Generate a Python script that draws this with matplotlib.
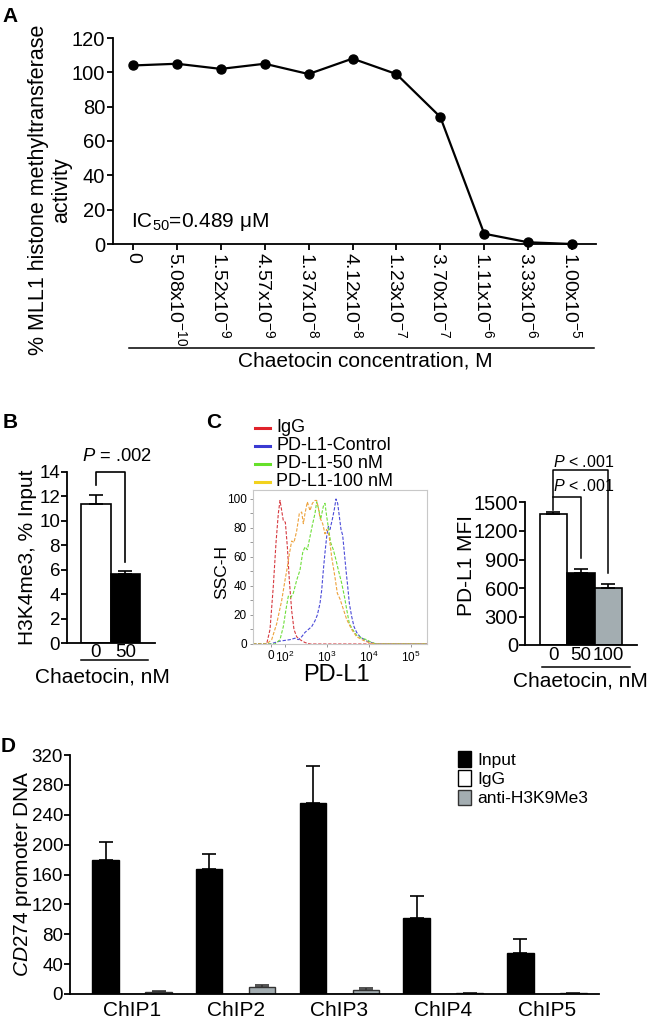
import numpy as np
import matplotlib
matplotlib.use('Agg')
import matplotlib.pyplot as plt
from matplotlib.lines import Line2D

W, H = 650, 1035
plt.rcParams['font.family'] = ['Liberation Sans', 'DejaVu Sans']
plt.rcParams['mathtext.fontset'] = 'custom'
plt.rcParams['mathtext.rm'] = 'Liberation Sans'
plt.rcParams['mathtext.it'] = 'Liberation Sans:italic'
plt.rcParams['axes.linewidth'] = 1.3

# ---- panel A: MLL1 activity vs chaetocin
conc_labels = ['0', r'5.08x10$^{-10}$', r'1.52x10$^{-9}$', r'4.57x10$^{-9}$', r'1.37x10$^{-8}$',
               r'4.12x10$^{-8}$', r'1.23x10$^{-7}$', r'3.70x10$^{-7}$', r'1.11x10$^{-6}$',
               r'3.33x10$^{-6}$', r'1.00x10$^{-5}$']
activity = [104, 105, 102, 105, 99, 108, 99, 74, 6, 1, 0]

# ---- panel B: H3K4me3 ChIP
b_labels = ['0', '50']
b_vals = [11.4, 5.65]
b_err = [0.7, 0.25]

# ---- panel C: flow histogram (x in display decades, 0 / 10^2 ... 10^5)
hist_labels = ['IgG', 'PD-L1-Control', 'PD-L1-50 nM', 'PD-L1-100 nM']
hist_leg_colors = ['#e0232b', '#3a3ad2', '#66e02a', '#f2d21e']
hist_colors = ['#d63a40', '#4a4ad8', '#6ede3a', '#eda23c']
igg_x = [1.238, 1.563, 1.643, 1.722, 1.786, 1.841, 1.881, 1.921, 1.960, 2.008, 2.056, 2.103,
         2.159, 2.214, 2.278, 2.357, 2.476, 2.595, 5.381]
igg_y = [0, 0, 10, 40, 70, 90, 99, 92, 85, 84, 67, 44, 23, 10, 5, 3, 1, 0, 0]
ctl_x = [1.238, 1.643, 1.762, 1.881, 2.0, 2.119, 2.238, 2.317, 2.397, 2.476, 2.556, 2.635, 2.714,
         2.770, 2.833, 2.873, 2.913, 2.952, 2.992, 3.032, 3.071, 3.127, 3.175, 3.214, 3.254,
         3.294, 3.333, 3.373, 3.413, 3.452, 3.492, 3.532, 3.587, 3.643, 3.706, 3.786, 3.865,
         3.944, 4.063, 4.183, 5.381]
ctl_y = [0, 0, 1, 2, 2.5, 3, 4, 3, 5, 8, 10, 12, 16, 20, 28, 37, 51, 63, 74, 81, 79, 86, 93,
         100, 97, 88, 79, 75, 63, 51, 40, 28, 19, 12, 8, 5, 3.5, 2, 1, 0, 0]
n50_x = [1.238, 1.762, 1.881, 1.960, 2.024, 2.079, 2.135, 2.198, 2.278, 2.357, 2.421, 2.476,
         2.532, 2.595, 2.659, 2.714, 2.754, 2.802, 2.849, 2.913, 2.952, 2.992, 3.040, 3.087,
         3.151, 3.214, 3.270, 3.349, 3.413, 3.468, 3.532, 3.611, 3.706, 3.825, 3.944, 4.063,
         4.183, 5.381]
n50_y = [0, 0, 3, 12, 24, 33, 32, 35, 44, 51, 63, 67, 65, 74, 83, 90, 98, 93, 86, 95, 97, 88,
         79, 70, 65, 58, 51, 42, 33, 24, 14, 10, 6, 4, 3, 1, 0, 0]
n100_x = [1.238, 1.563, 1.683, 1.802, 1.921, 2.0, 2.056, 2.103, 2.159, 2.214, 2.278, 2.341,
          2.397, 2.437, 2.476, 2.532, 2.595, 2.651, 2.714, 2.754, 2.794, 2.833, 2.897, 2.952,
          2.992, 3.048, 3.111, 3.190, 3.246, 3.310, 3.389, 3.468, 3.587, 3.706, 3.865, 4.024,
          4.183, 5.381]
n100_y = [0, 0, 3, 14, 30, 44, 53, 62, 71, 70, 78, 90, 91, 83, 90, 98, 92, 97, 99, 99, 94, 87,
          83, 76, 79, 75, 60, 46, 35, 31, 24, 17, 10, 5, 2.5, 0.7, 0, 0]
hist_ticks = [1.667, 2, 3, 4, 5]
hist_ticklabels = ['0', r'$10^2$', r'$10^3$', r'$10^4$', r'$10^5$']

# ---- panel C: PD-L1 MFI
c_labels = ['0', '50', '100']
c_vals = [1375, 760, 600]
c_err = [25, 40, 42]

# ---- panel D: ChIP
chip_labels = ['ChIP1', 'ChIP2', 'ChIP3', 'ChIP4', 'ChIP5']
d_input = [180, 167, 256, 102, 55]
d_input_err = [24, 21, 49, 29, 19]
d_igg = [0.6, 0.5, 0.5, 0.4, 0.4]
d_h3k9 = [3, 9, 6, 1, 1]
d_h3k9_err = [0.5, 3, 1.5, 0.3, 0.3]

GRAY = '#a3adb1'

fig = plt.figure(figsize=(W / 100, H / 100), dpi=100)


def add_ax(l, t, r, b):
    return fig.add_axes([l / W, 1 - b / H, (r - l) / W, (b - t) / H])


def ftext(x, y, s, **kw):
    return fig.text(x / W, 1 - y / H, s, **kw)


def fline(x0, x1, y, **kw):
    fig.add_artist(Line2D([x0 / W, x1 / W], [1 - y / H, 1 - y / H], color='k', lw=1.1, **kw))


def clean(ax):
    for s in ['top', 'right']:
        ax.spines[s].set_visible(False)


# A
axA = add_ax(113, 38, 596, 244)
xa = np.arange(len(activity))
axA.plot(xa, activity, color='k', lw=1.6, marker='o', ms=6.5, clip_on=False)
axA.set_xlim(-0.456, 10.547)
axA.set_ylim(0, 120)
axA.set_yticks(range(0, 121, 20))
axA.set_xticks(xa)
axA.set_xticklabels(conc_labels, rotation=270, va='top', ha='center')
axA.tick_params(axis='y', length=4, width=1.3, labelsize=14.5, pad=1.5)
axA.tick_params(axis='x', length=4, width=1.3, labelsize=14, pad=2)
clean(axA)
axA.text(0.037, 0.107, 'IC$_{50}$=0.489 μM', transform=axA.transAxes, va='center', size=15)
ftext(50, 190, '% MLL1 histone methyltransferase\nactivity', rotation=90, ha='center',
      va='center', multialignment='center', size=15.5, linespacing=1.1)
fline(129, 594, 348)
ftext(365, 361, 'Chaetocin concentration, M', ha='center', va='center', size=15)
ftext(10, 17, 'A', ha='center', va='center', size=15, weight='bold')

# B
axB = add_ax(67, 472, 155, 643)
xb = np.arange(len(b_vals))
axB.bar(xb, b_vals, width=1, color=['white', 'black'], edgecolor='black', lw=1.2)
axB.errorbar(xb, b_vals, yerr=[[0, 0], b_err], fmt='none', ecolor='k', capsize=5,
             elinewidth=1.2, capthick=1.2)
axB.set_xlim(-0.983, 2.0)
axB.set_ylim(0, 14)
axB.set_yticks(range(0, 15, 2))
axB.set_xticks(xb)
axB.set_xticklabels(b_labels)
axB.tick_params(axis='y', length=4, width=1.3, labelsize=13.5, pad=1)
axB.tick_params(axis='x', length=0, labelsize=13.5, pad=1)
clean(axB)
axB.plot([0, 0, 1, 1], [12.95, 14, 14, 6.6], color='k', lw=1.2, clip_on=False)
axB.text(0.71, 15.3, r'$\it{P}$ = .002', ha='center', va='center', size=13.2)
ftext(28, 557, 'H3K4me3, % Input', rotation=90, ha='center', va='center', size=15)
fline(81, 148, 660)
ftext(102, 677, 'Chaetocin, nM', ha='center', va='center', size=15)
ftext(10, 422, 'B', ha='center', va='center', size=15, weight='bold')

# C histogram
axH = add_ax(253, 490, 427, 644)
series = [(igg_x, igg_y), (ctl_x, ctl_y), (n50_x, n50_y), (n100_x, n100_y)]
for (hx, hy), col in zip(series, hist_colors):
    axH.plot(hx, hy, color=col, lw=0.8, ls=(0, (3, 1.5)))
axH.set_xlim(1.238, 5.381)
axH.set_ylim(0, 106.2)
axH.set_yticks(range(0, 101, 20))
axH.set_yticks(range(10, 101, 20), minor=True)
axH.set_xticks(hist_ticks)
axH.set_xticklabels(hist_ticklabels)
for s in axH.spines.values():
    s.set_color('#c8c8c8')
    s.set_linewidth(0.8)
axH.tick_params(which='both', length=2.5, width=0.6, color='#888888', labelsize=8.5, pad=2)
ftext(222, 572, 'SSC-H', rotation=90, ha='center', va='center', size=12.5)
ftext(336, 675, 'PD-L1', ha='center', va='center', size=17)
for i, (lab, col) in enumerate(zip(hist_labels, hist_leg_colors)):
    y = 428 + 18 * i
    fig.add_artist(Line2D([255 / W, 270 / W], [1 - y / H] * 2, color=col, lw=2.2))
    ftext(276, y, lab, va='center', size=13)
ftext(214, 422, 'C', ha='center', va='center', size=15, weight='bold')

# C bars
axC = add_ax(525, 502.5, 637, 645)
xc = np.arange(len(c_vals))
axC.bar(xc, c_vals, width=1, color=['white', 'black', GRAY], edgecolor='black', lw=1.2)
axC.errorbar(xc, c_vals, yerr=[[0, 0, 0], c_err], fmt='none', ecolor='k', capsize=5,
             elinewidth=1.2, capthick=1.2)
axC.set_xlim(-1.036, 3.04)
axC.set_ylim(0, 1500)
axC.set_yticks(range(0, 1501, 300))
axC.set_xticks(xc)
axC.set_xticklabels(c_labels)
axC.tick_params(axis='y', length=4, width=1.3, labelsize=14.5, pad=1)
axC.tick_params(axis='x', length=0, labelsize=13.5, pad=1.5)
clean(axC)
axC.plot([0, 0, 2, 2], [1421, 1842, 1842, 760], color='k', lw=1.1, clip_on=False)
axC.plot([0, 1, 1], [1558, 1558, 915], color='k', lw=1.1, clip_on=False)
axC.text(1.11, 1926, r'$\it{P}$ < .001', ha='center', va='center', size=11.5)
axC.text(1.11, 1674, r'$\it{P}$ < .001', ha='center', va='center', size=11.5)
ftext(466, 566, 'PD-L1 MFI', rotation=90, ha='center', va='center', size=15)
fline(542, 630, 667)
ftext(580, 681, 'Chaetocin, nM', ha='center', va='center', size=15)

# D
axD = add_ax(70, 755, 599, 994)
g = np.arange(len(chip_labels))
w = 0.2555
axD.bar(g - w, d_input, w, color='black', edgecolor='black', lw=1, label='Input')
axD.bar(g, d_igg, w, color='white', edgecolor='black', lw=1, label='IgG')
axD.bar(g + w, d_h3k9, w, color=GRAY, edgecolor='#333333', lw=1, label='anti-H3K9Me3')
axD.errorbar(g - w, d_input, yerr=[[0] * 5, d_input_err], fmt='none', ecolor='k', capsize=5,
             elinewidth=1.2, capthick=1.2)
axD.errorbar(g + w, d_h3k9, yerr=[[0] * 5, d_h3k9_err], fmt='none', ecolor='#333333', capsize=5,
             elinewidth=1.2, capthick=1.2)
axD.set_xlim(-0.598, 4.503)
axD.set_ylim(0, 320)
axD.set_yticks(range(0, 321, 40))
axD.set_xticks(g)
axD.set_xticklabels(chip_labels)
axD.tick_params(axis='y', length=4, width=1.3, labelsize=13.5, pad=1)
axD.tick_params(axis='x', length=0, labelsize=15, pad=5)
clean(axD)
axD.legend(loc='upper left', bbox_to_anchor=(458 / W, 1 - 751 / H), bbox_transform=fig.transFigure,
           frameon=False, fontsize=12.5, handlelength=0.75, handleheight=1.0, handletextpad=0.35,
           labelspacing=0.15, borderpad=0, borderaxespad=0)
ftext(23, 874, r'$\it{CD274}$ promoter DNA', rotation=90, ha='center', va='center', size=15)
ftext(8, 747, 'D', ha='center', va='center', size=15, weight='bold')

fig.savefig('out.png', dpi=100, facecolor='white')
